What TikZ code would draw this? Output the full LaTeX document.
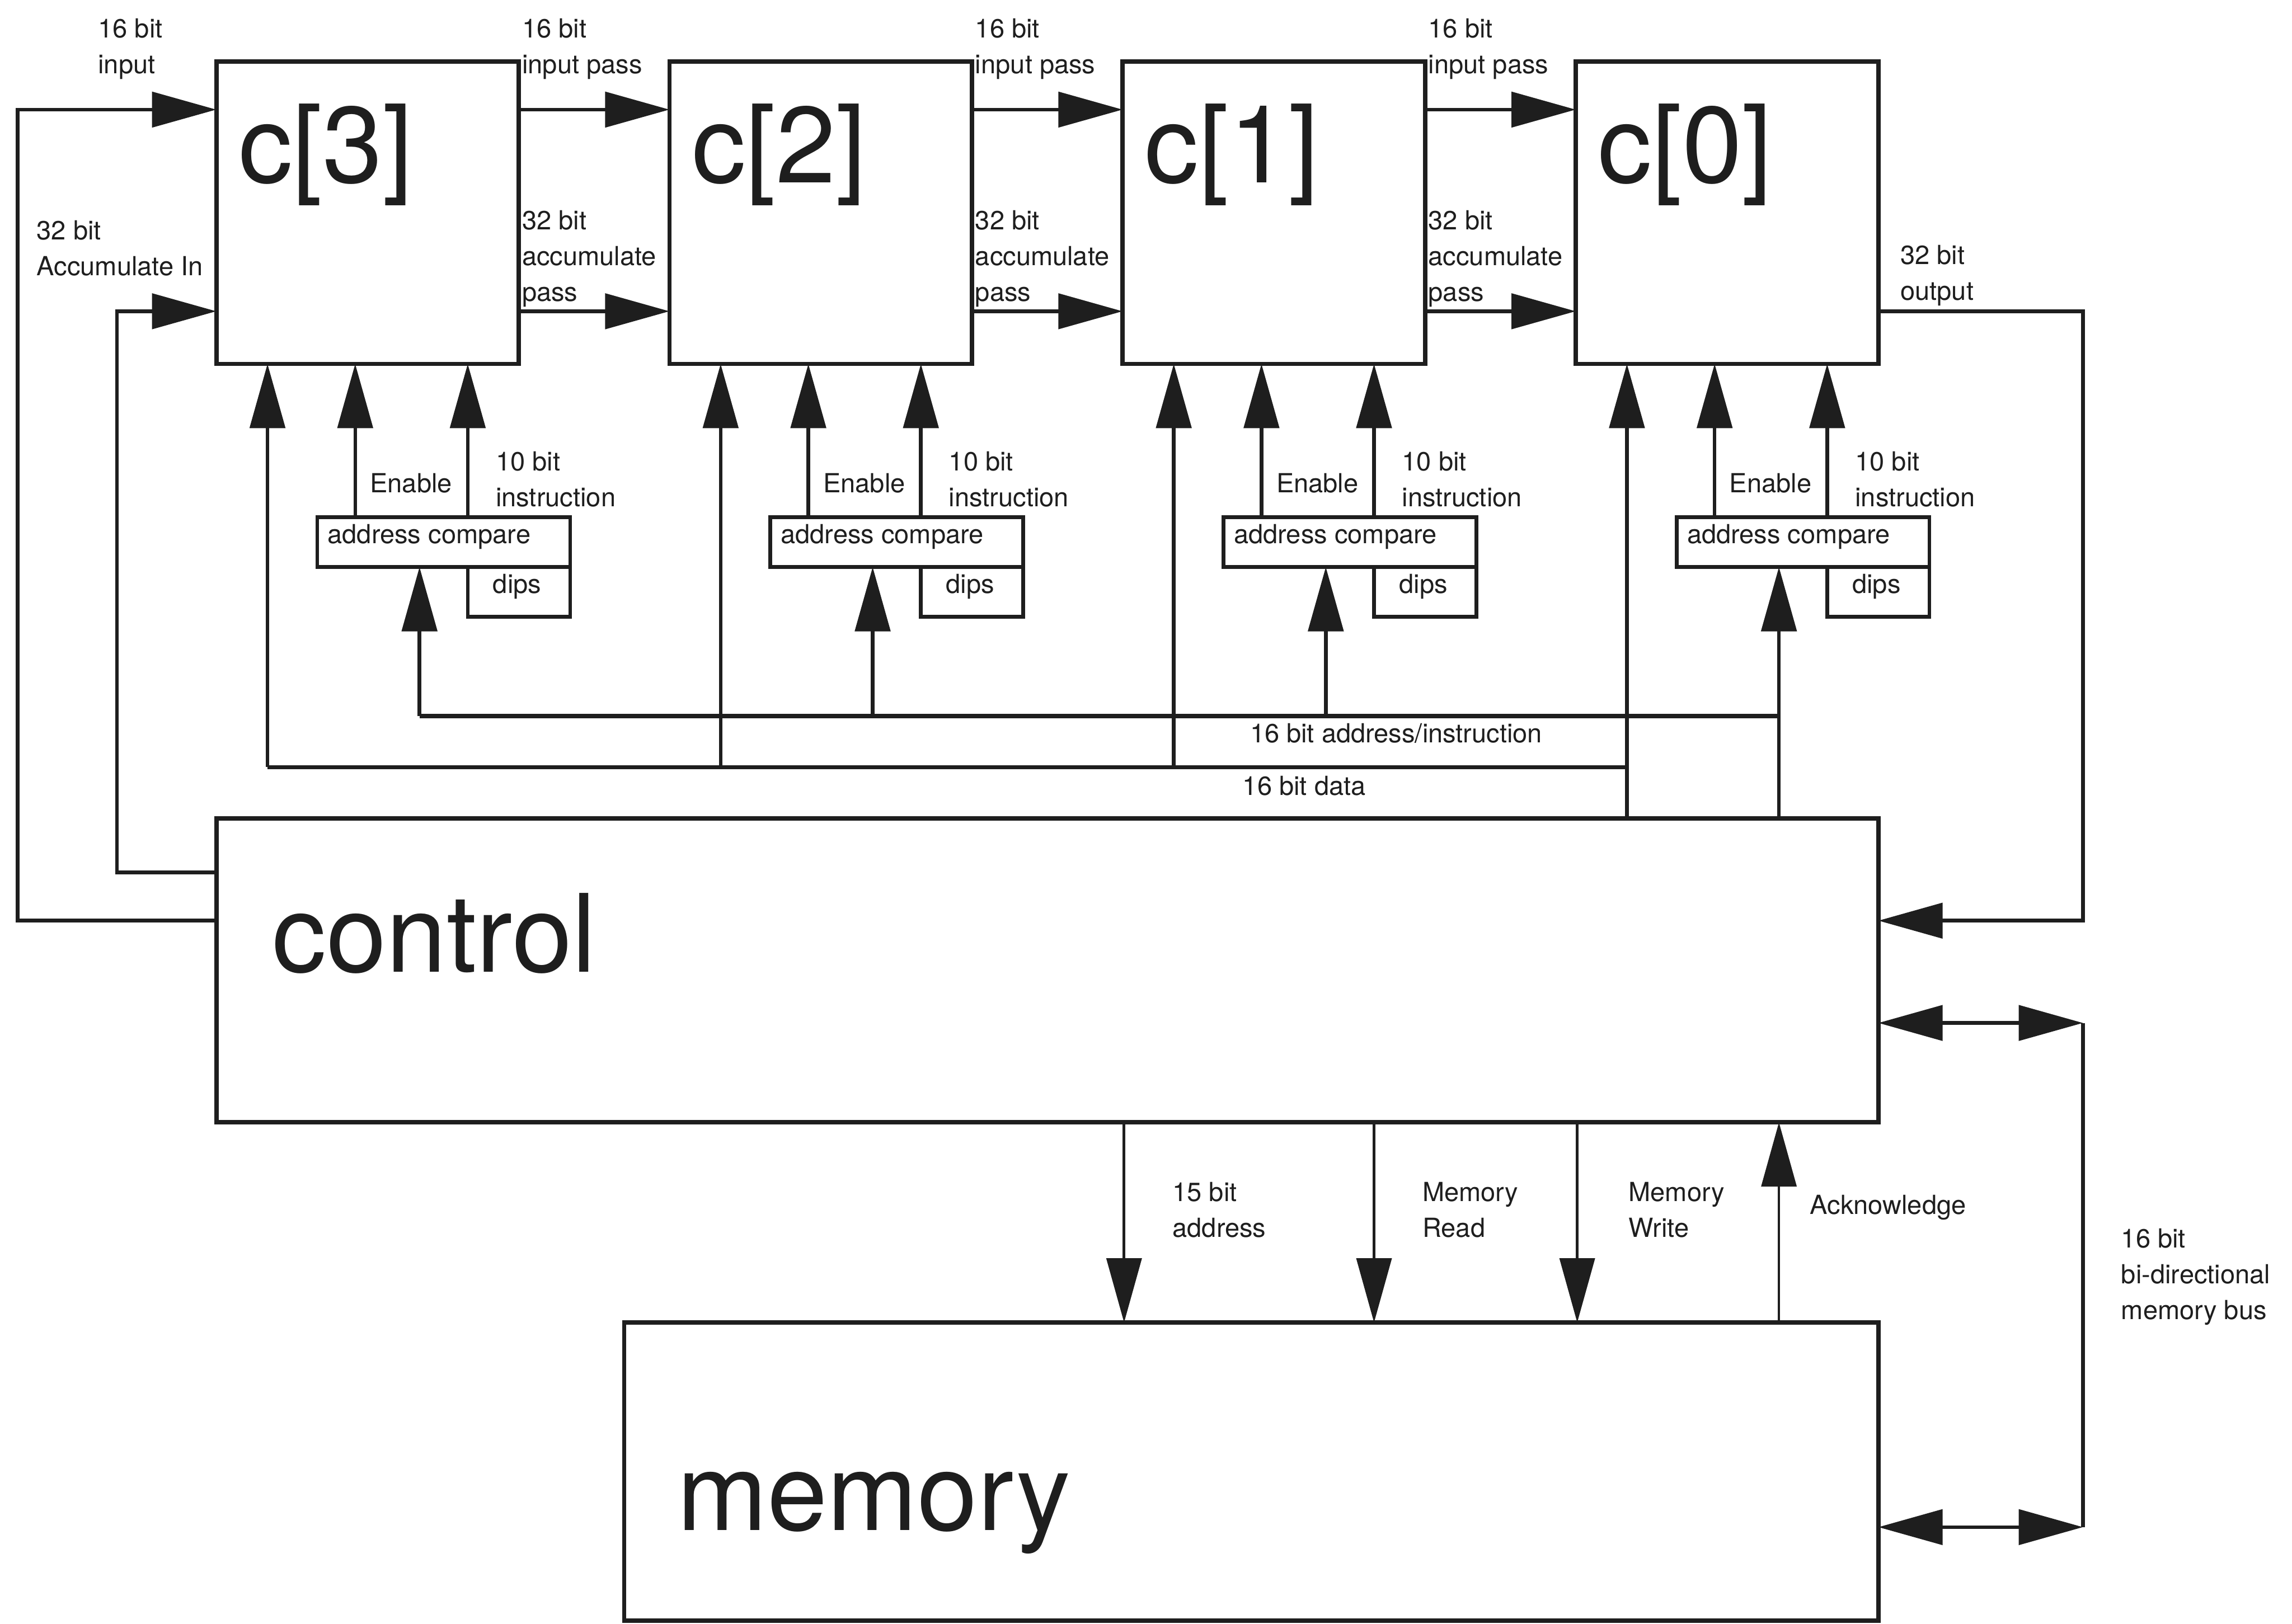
\documentclass[tikz,border=0pt]{standalone}
\usepackage{fontspec}
\setmainfont{TeX Gyre Heros}
\usetikzlibrary{arrows.meta}
\definecolor{ink}{RGB}{30,30,30}
\begin{document}
\begin{tikzpicture}[x=1pt,y=-1pt,
  blk/.style={draw=ink, line width=3pt, inner sep=0pt, outer sep=0pt},
  lbl/.style={font=\fontsize{18}{24.5}\selectfont, inner sep=0pt, anchor=base west, align=left, text=ink},
  big/.style={font=\fontsize{74}{80}\selectfont, inner sep=0pt, anchor=base west, text=ink},
  wire/.style={draw=ink, line width=2.5pt},
  bus/.style={draw=ink, line width=3pt},
  arr/.style={wire, -{Triangle[length=44pt,width=24pt]}},
  thinarr/.style={draw=ink, line width=1.8pt, -{Triangle[length=44pt,width=24pt]}},
  bi/.style={wire, {Triangle[length=44pt,width=24pt]}-{Triangle[length=44pt,width=24pt]}}]
\useasboundingbox (0,0) rectangle (1568,1111);

% main boxes
\node[blk, minimum width=1137pt, minimum height=208pt] (ctl) at (716.5,664) {};
\node[big] (ctlt) at (186,665) {control};
\node[blk, minimum width=858pt, minimum height=204pt] (mem) at (856,1007) {};
\node[big] (memt) at (463,1047) {memory};

% bus coordinates
\coordinate (dbus) at (0,525);
\coordinate (abus) at (0,490);

\foreach \k [count=\i from 0] in {3,2,1,0} {
  \pgfmathsetmacro{\ox}{\i*310}
  \node[blk, minimum width=207pt, minimum height=207pt] (c\k) at ({251.5+\ox},145.5) {};
  \node[big] (t\k) at ({163+\ox},125) {c[\k]};
  \node[blk, line width=2.5pt, minimum width=173pt, minimum height=34pt] (ac\k) at ({303.5+\ox},371) {};
  \node[lbl] (act\k) at ({224+\ox},372) {address compare};
  \node[blk, line width=2.5pt, minimum width=70pt, minimum height=34pt] (dp\k) at ({355+\ox},405) {};
  \node[lbl] (dpt\k) at ({337+\ox},406) {dips};
  \coordinate (xd\k) at ({183+\ox},0);
  \coordinate (xe\k) at ({243+\ox},0);
  \coordinate (xi\k) at ({320+\ox},0);
  \coordinate (xa\k) at ({287+\ox},0);
  \draw[arr] (ac\k.north -| xe\k) -- (c\k.south -| xe\k);
  \draw[arr] (ac\k.north -| xi\k) -- (c\k.south -| xi\k);
  \node[lbl] (en\k) at ({253+\ox},337) {Enable};
  \node[lbl] (in\k) at ({339+\ox},346.5) {10 bit\\instruction};
  \ifnum\k=0
    \draw[arr] (ctl.north -| xd\k) -- (c\k.south -| xd\k);
    \draw[arr] (ctl.north -| xa\k) -- (ac\k.south -| xa\k);
  \else
    \draw[arr] (dbus -| xd\k) -- (c\k.south -| xd\k);
    \draw[arr] (abus -| xa\k) -- (ac\k.south -| xa\k);
    \node[lbl] (ip\k) at ({357+\ox},50.5) {16 bit\\input pass};
    \node[lbl] (ap\k) at ({357+\ox},206) {32 bit\\accumulate\\pass};
  \fi
}

% buses
\draw[bus] (dbus -| xd3) -- (dbus -| xd0);
\draw[bus] (abus -| xa3) -- (abus -| xa0);
\node[lbl] (abl) at (855,508) {16 bit address/instruction};
\node[lbl] (dbl) at (850,544) {16 bit data};

% inputs
\coordinate (pin1) at (12,630);
\coordinate (pin2) at (12,75);
\coordinate (pac1) at (80,597);
\coordinate (pac2) at (80,213);
\draw[arr] (ctl.west |- pin1) -- (pin1) -- (pin2) -- (c3.west |- pin2);
\draw[arr] (ctl.west |- pac1) -- (pac1) -- (pac2) -- (c3.west |- pac2);
\node[lbl] (inl) at (67,50.5) {16 bit\\input};
\node[lbl] (acl) at (25,188.5) {32 bit\\Accumulate In};

% pass arrows
\draw[arr] (c3.east |- pin2) -- (c2.west |- pin2);
\draw[arr] (c2.east |- pin2) -- (c1.west |- pin2);
\draw[arr] (c1.east |- pin2) -- (c0.west |- pin2);
\draw[arr] (c3.east |- pac2) -- (c2.west |- pac2);
\draw[arr] (c2.east |- pac2) -- (c1.west |- pac2);
\draw[arr] (c1.east |- pac2) -- (c0.west |- pac2);

% output
\coordinate (po1) at (1425,213);
\coordinate (po2) at (1425,630);
\draw[arr] (c0.east |- po1) -- (po1) -- (po2) -- (ctl.east |- po2);
\node[lbl] (outl) at (1300,205.5) {32 bit\\output};

% bidirectional memory bus
\coordinate (pb1) at (1425,700);
\coordinate (pb2) at (1425,1045);
\draw[bi] (ctl.east |- pb1) -- (pb1);
\draw[bi] (mem.east |- pb2) -- (pb2);
\draw[wire] (pb1) -- (pb2);
\node[lbl] (bil) at (1451,903) {16 bit\\bi-directional\\memory bus};

% control <-> memory
\coordinate (xm1) at (769,0);
\coordinate (xm2) at (940,0);
\coordinate (xm3) at (1079,0);
\coordinate (xm4) at (1217,0);
\draw[thinarr] (ctl.south -| xm1) -- (mem.north -| xm1);
\draw[thinarr] (ctl.south -| xm2) -- (mem.north -| xm2);
\draw[thinarr] (ctl.south -| xm3) -- (mem.north -| xm3);
\draw[thinarr] (mem.north -| xm4) -- (ctl.south -| xm4);
\node[lbl] (m1l) at (802,846.5) {15 bit\\address};
\node[lbl] (m2l) at (973,846.5) {Memory\\Read};
\node[lbl] (m3l) at (1114,846.5) {Memory\\Write};
\node[lbl] (m4l) at (1238,831) {Acknowledge};
\end{tikzpicture}
\end{document}
